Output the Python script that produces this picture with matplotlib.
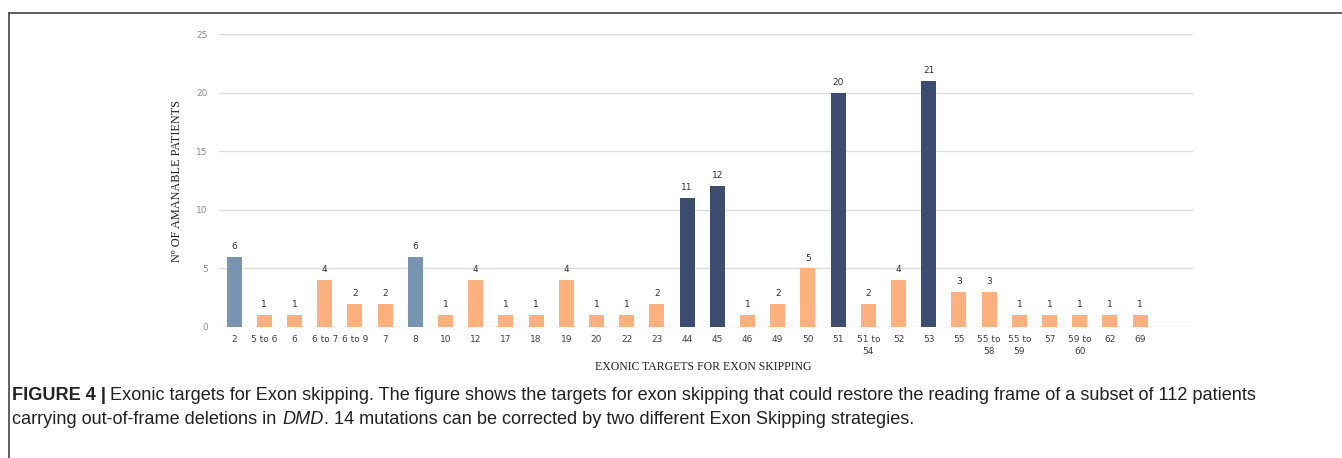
import matplotlib.pyplot as plt

targets = ["2", "5 to 6", "6", "6 to 7", "6 to 9", "7", "8", "10", "12", "17",
           "18", "19", "20", "22", "23", "44", "45", "46", "49", "50",
           "51", "51 to\n54", "52", "53", "55", "55 to\n58", "55 to\n59", "57",
           "59 to\n60", "62", "69"]
patients = [6, 1, 1, 4, 2, 2, 6, 1, 4, 1,
            1, 4, 1, 1, 2, 11, 12, 1, 2, 5,
            20, 2, 4, 21, 3, 3, 1, 1, 1, 1, 1]
# targets coloured differently in the chart
main_targets = ["44", "45", "51", "53"]
early_targets = ["2", "8"]
y_ticks = [0, 5, 10, 15, 20, 25]

colors = []
for t in targets:
    if t in main_targets:
        colors.append("#3d4d6f")
    elif t in early_targets:
        colors.append("#7895b1")
    else:
        colors.append("#ffb07f")

fig = plt.figure(figsize=(13.42, 4.58), dpi=100)

# frame lines around the figure panel
fig.add_artist(plt.Line2D([9/1342, 1], [1 - 13/458, 1 - 13/458], color="#444444", lw=1.2))
fig.add_artist(plt.Line2D([9/1342, 9/1342], [0, 1 - 13/458], color="#444444", lw=1.2))

ax = fig.add_axes([219/1342, (458-327)/458, (1193-219)/1342, (327-34)/458])
x = range(len(targets))
ax.bar(x, patients, width=0.5, color=colors, zorder=3)
for i, v in enumerate(patients):
    ax.text(i, v + 0.5, str(v), ha="center", va="bottom", fontsize=6.5, color="#333333")

ax.set_xlim(-0.5, 31.75)
ax.set_ylim(0, 25)
ax.set_yticks(y_ticks)
ax.set_xticks(list(x))
ax.set_xticklabels(targets, fontsize=6.5, color="#404040", linespacing=1.4)
ax.tick_params(axis="y", labelsize=6.5, colors="#8c8c8c", length=0, pad=8)
ax.tick_params(axis="x", length=0, pad=6)
ax.grid(axis="y", color="#dcdcdc", lw=1, zorder=0)
for s in ax.spines.values():
    s.set_visible(False)

ax.set_ylabel("Nº OF AMANABLE PATIENTS", family="Liberation Serif", fontsize=8.8, color="#222222", labelpad=10)
fig.text(703/1342, 1 - 367/458, "EXONIC TARGETS FOR EXON SKIPPING", family="Liberation Serif",
         fontsize=8.5, color="#222222", ha="center", va="center")

# caption, written in pieces so the bold and italic parts sit inline
cap_font = ["Liberation Sans", "DejaVu Sans"]
cap_size = 13.1
y1 = 1 - 396/458
y2 = 1 - 419/458
fig.canvas.draw()


def put(xpx, y, s, **kw):
    t = fig.text(xpx / 1342, y, s, family=cap_font, fontsize=cap_size, color="#222222", va="center", **kw)
    return t.get_window_extent(fig.canvas.get_renderer()).x1


end = put(12, y1, "FIGURE 4 |", fontweight="bold")
put(end + 4, y1, "Exonic targets for Exon skipping. The figure shows the targets for exon skipping "
                 "that could restore the reading frame of a subset of 112 patients")
end = put(12, y2, "carrying out-of-frame deletions in ")
end = put(end + 1, y2, "DMD", style="italic")
put(end, y2, ". 14 mutations can be corrected by two different Exon Skipping strategies.")

plt.savefig("out.png", dpi=100)
